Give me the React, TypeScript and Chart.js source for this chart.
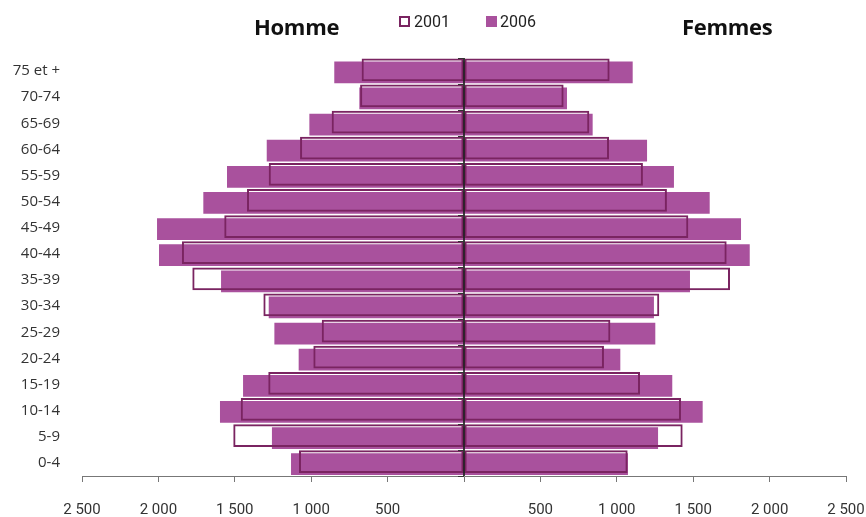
import React, { useEffect, useRef } from "react";
import { Chart, registerables } from "chart.js";

Chart.register(...registerables);

const categories = ["75 et +", "70-74", "65-69", "60-64", "55-59", "50-54", "45-49", "40-44", "35-39", "30-34", "25-29", "20-24", "15-19", "10-14", "5-9", "0-4"];
const hommes2001 = [670, 680, 866, 1073, 1278, 1420, 1569, 1846, 1778, 1313, 931, 986, 1281, 1461, 1510, 1080];
const hommes2006 = [849, 685, 1012, 1291, 1551, 1706, 2009, 1996, 1590, 1278, 1241, 1082, 1446, 1597, 1257, 1132];
const femmes2001 = [953, 652, 820, 949, 1171, 1328, 1468, 1719, 1741, 1278, 958, 916, 1152, 1420, 1431, 1071];
const femmes2006 = [1104, 674, 842, 1198, 1374, 1608, 1813, 1870, 1479, 1243, 1252, 1023, 1363, 1562, 1270, 1073];
const xTicks = [-2500, -2000, -1500, -1000, -500, 0, 500, 1000, 1500, 2000, 2500];
const years = ["2001", "2006"];
const sideTitles = ["Homme", "Femmes"];

const C2006 = "#A9519D";
const C2001 = "#7A2461";

const fmt = (v: number) =>
  v === 0 ? "" : String(Math.abs(v)).replace(/\B(?=(\d{3})+(?!\d))/g, " ");

const centerLine = {
  id: "centerLine",
  afterDatasetsDraw(chart: any) {
    const { ctx, chartArea, scales } = chart;
    const x = scales.x.getPixelForValue(0);
    ctx.save();
    ctx.strokeStyle = "#000";
    ctx.lineWidth = 1.5;
    ctx.beginPath();
    ctx.moveTo(x, chartArea.top);
    ctx.lineTo(x, chartArea.bottom);
    ctx.stroke();
    const ys = scales.y;
    const n = categories.length;
    const step = ys.getPixelForValue(1) - ys.getPixelForValue(0);
    ctx.lineWidth = 1;
    ctx.strokeStyle = "#333";
    ctx.beginPath();
    for (let i = 0; i <= n; i++) {
      const yy = Math.round(ys.getPixelForValue(i) - step / 2) + 0.5;
      ctx.moveTo(x - 6, yy);
      ctx.lineTo(x, yy);
    }
    ctx.stroke();
    ctx.restore();
  },
};

export default function App() {
  const canvasRef = useRef<HTMLCanvasElement>(null);

  useEffect(() => {
    document.body.style.margin = "0";
    const common2001 = {
      backgroundColor: "rgba(0,0,0,0)",
      borderColor: C2001,
      borderWidth: 2,
      borderSkipped: false,
      stack: "2001",
      categoryPercentage: 0.19,
      barPercentage: 9.2,
    };
    const common2006 = {
      backgroundColor: C2006,
      borderWidth: 0,
      stack: "2006",
      categoryPercentage: 0.19,
      barPercentage: 8.8,
    };
    const chart = new Chart(canvasRef.current as HTMLCanvasElement, {
      type: "bar",
      data: {
        labels: categories,
        datasets: [
          { label: "2001", data: hommes2001.map((v) => -v), ...common2001 },
          { label: "2001 F", data: femmes2001, ...common2001 },
          { label: "2006", data: hommes2006.map((v) => -v), ...common2006 },
          { label: "2006 F", data: femmes2006, ...common2006 },
        ] as any,
      },
      options: {
        indexAxis: "y",
        responsive: false,
        animation: false,
        layout: { padding: { top: 58, right: 20, left: 0, bottom: 0 } },
        plugins: {
          legend: { display: false },
          tooltip: { enabled: false },
        },
        scales: {
          x: {
            type: "linear",
            min: -2500,
            max: 2500,
            afterBuildTicks: (scale: any) => {
              scale.ticks = xTicks.map((v) => ({ value: v }));
            },
            afterFit: (scale: any) => {
              scale.height = 41;
              scale.paddingLeft = 0;
              scale.paddingRight = 0;
            },
            ticks: {
              callback: (v: any) => fmt(Number(v)),
              autoSkip: false,
              maxRotation: 0,
              padding: 19,
              color: "#333",
              font: { family: "Roboto", size: 15 },
            },
            grid: {
              drawOnChartArea: false,
              drawTicks: true,
              tickLength: 6,
              tickColor: "#777",
            },
            border: { display: true, color: "#777", width: 1 },
          },
          y: {
            type: "category",
            afterFit: (scale: any) => {
              scale.width = 82;
              scale.paddingTop = 0;
              scale.paddingBottom = 0;
            },
            ticks: {
              padding: 22,
              color: "#333",
              font: { family: "'Open Sans'", size: 15 },
            },
            grid: { display: false, drawTicks: false },
            border: { display: false },
          },
        },
      } as any,
      plugins: [centerLine],
    });
    return () => chart.destroy();
  }, []);

  const titleStyle: React.CSSProperties = {
    position: "absolute",
    top: 13,
    fontFamily: "'Open Sans', sans-serif",
    fontWeight: 700,
    fontSize: 22,
    lineHeight: "26px",
    color: "#111",
    letterSpacing: "-0.3px",
  };
  const legendText: React.CSSProperties = {
    position: "absolute",
    top: 12,
    fontFamily: "Roboto, sans-serif",
    fontSize: 16,
    lineHeight: "20px",
    color: "#222",
  };

  return (
    <div style={{ position: "relative", width: 866, height: 517, background: "#fff" }}>
      <canvas ref={canvasRef} width={866} height={517} style={{ display: "block", width: 866, height: 517 }} />
      <div style={{ ...titleStyle, left: 254 }}>{sideTitles[0]}</div>
      <div style={{ ...titleStyle, left: 682 }}>{sideTitles[1]}</div>
      <div
        style={{
          position: "absolute",
          left: 399,
          top: 16,
          width: 7,
          height: 7,
          border: `2px solid ${C2001}`,
          background: "#fff",
        }}
      />
      <div style={{ ...legendText, left: 414 }}>{years[0]}</div>
      <div
        style={{
          position: "absolute",
          left: 486,
          top: 16,
          width: 11,
          height: 11,
          background: C2006,
        }}
      />
      <div style={{ ...legendText, left: 500 }}>{years[1]}</div>
    </div>
  );
}
